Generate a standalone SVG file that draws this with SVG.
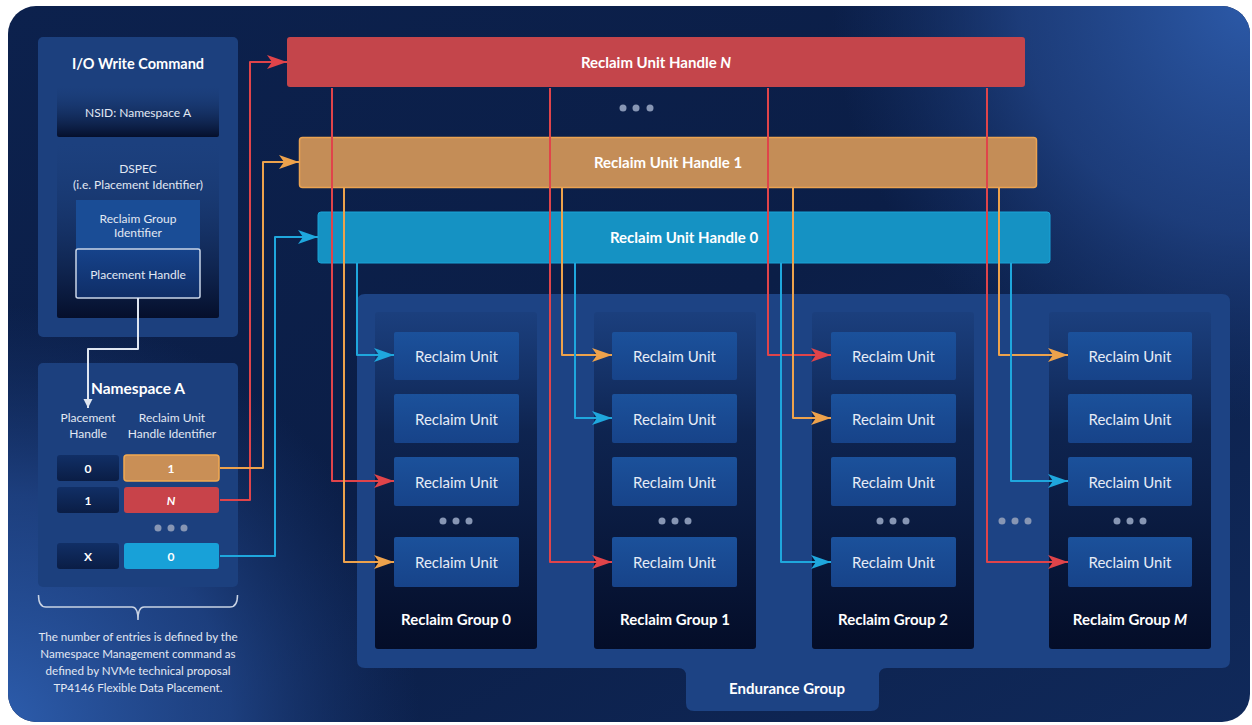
<svg xmlns="http://www.w3.org/2000/svg" width="1252" height="725" viewBox="0 0 1252 725">
  <defs>
    <style>
      text { font-family: "Lato", "Liberation Sans", sans-serif; text-anchor: middle; dominant-baseline: central; }
      .title { font-size: 14.5px; font-weight: 700; fill: #ffffff; }
      .bar-label { font-size: 15px; font-weight: 700; fill: #ffffff; }
      .small { font-size: 12px; fill: #e2e8f3; }
      .num { font-size: 12px; font-weight: 700; fill: #ffffff; }
      .note { font-size: 11.6px; fill: #e2e8f3; }
      .ru-text { font-size: 15px; fill: #e6ecf6; }
      .rg-label { font-size: 15px; font-weight: 700; fill: #ffffff; }
      .ru { fill: url(#ruFill); }
      .rg { fill: url(#rgFill); }
      .panel { fill: #1c407e; }
      .dot { fill: #8796b4; }
      .link { fill: none; stroke-width: 2; stroke-linejoin: round; }
      .red { stroke: #e0444a; }
      .orange { stroke: #eda24c; }
      .cyan { stroke: #1fa7dd; }
      .white { stroke: #dfe6f1; }
    </style>
    <linearGradient id="bgBase" x1="0" y1="0" x2="1" y2="1">
      <stop offset="0" stop-color="#0c214d"/>
      <stop offset="0.5" stop-color="#0b1e47"/>
      <stop offset="1" stop-color="#10295a"/>
    </linearGradient>
    <radialGradient id="glowTR" cx="1252" cy="0" r="420" gradientUnits="userSpaceOnUse">
      <stop offset="0" stop-color="#2c5aa9"/>
      <stop offset="0.55" stop-color="#24498f" stop-opacity="0.7"/>
      <stop offset="1" stop-color="#1a3a78" stop-opacity="0"/>
    </radialGradient>
    <radialGradient id="glowBL" cx="0" cy="725" r="420" gradientUnits="userSpaceOnUse">
      <stop offset="0" stop-color="#2d5dad"/>
      <stop offset="0.55" stop-color="#244c94" stop-opacity="0.7"/>
      <stop offset="1" stop-color="#1a3a78" stop-opacity="0"/>
    </radialGradient>
    <linearGradient id="darkBox" x1="0" y1="0" x2="0" y2="1">
      <stop offset="0" stop-color="#1c407e" stop-opacity="0.2"/>
      <stop offset="1" stop-color="#050f2b"/>
    </linearGradient>
    <linearGradient id="cellDark" x1="0" y1="0" x2="0" y2="1">
      <stop offset="0" stop-color="#112f66"/>
      <stop offset="1" stop-color="#0a1d45"/>
    </linearGradient>
    <linearGradient id="phFill" x1="0" y1="0" x2="0" y2="1">
      <stop offset="0" stop-color="#16438b"/>
      <stop offset="1" stop-color="#0f2d66"/>
    </linearGradient>
    <linearGradient id="ruFill" x1="0" y1="0" x2="0" y2="1">
      <stop offset="0" stop-color="#1b519b"/>
      <stop offset="1" stop-color="#174389"/>
    </linearGradient>
    <linearGradient id="rgFill" x1="0" y1="0" x2="0" y2="1">
      <stop offset="0" stop-color="#0a1c44" stop-opacity="0.1"/>
      <stop offset="0.35" stop-color="#08173a" stop-opacity="0.7"/>
      <stop offset="1" stop-color="#040d28"/>
    </linearGradient>
    <marker id="arrRed" viewBox="0 0 20 14" markerWidth="20" markerHeight="14" refX="20" refY="7" orient="auto" markerUnits="userSpaceOnUse">
      <path d="M0,0 L20,7 L0,14 L5,7 Z" fill="#e0444a"/>
    </marker>
    <marker id="arrOrange" viewBox="0 0 20 14" markerWidth="20" markerHeight="14" refX="20" refY="7" orient="auto" markerUnits="userSpaceOnUse">
      <path d="M0,0 L20,7 L0,14 L5,7 Z" fill="#eda24c"/>
    </marker>
    <marker id="arrCyan" viewBox="0 0 20 14" markerWidth="20" markerHeight="14" refX="20" refY="7" orient="auto" markerUnits="userSpaceOnUse">
      <path d="M0,0 L20,7 L0,14 L5,7 Z" fill="#1fa7dd"/>
    </marker>
    <marker id="arrWhite" viewBox="0 0 10 10" markerWidth="9" markerHeight="10" refX="10" refY="5" orient="auto" markerUnits="userSpaceOnUse">
      <path d="M0,0 L10,5 L0,10 Z" fill="#dfe6f1"/>
    </marker>
  </defs>

  <!-- backdrop -->
  <rect x="0" y="0" width="1252" height="725" fill="#ffffff"/>
  <rect x="8" y="6" width="1242" height="716" rx="28" fill="url(#bgBase)"/>
  <rect x="8" y="6" width="1242" height="716" rx="28" fill="url(#glowTR)"/>
  <rect x="8" y="6" width="1242" height="716" rx="28" fill="url(#glowBL)"/>

  <!-- I/O write command -->
  <g id="io-write-command">
    <rect class="panel" x="38" y="37" width="200" height="300" rx="5"/>
    <text class="title" x="138" y="63">I/O Write Command</text>
    <rect x="57" y="86" width="162" height="51" rx="2" fill="url(#darkBox)"/>
    <text class="small" x="138" y="112">NSID: Namespace A</text>
    <rect x="57" y="143" width="162" height="175" rx="2" fill="url(#darkBox)"/>
    <text class="small" x="138" y="168">DSPEC</text>
    <text class="small" x="138" y="184">(i.e. Placement Identifier)</text>
    <g id="reclaim-group-identifier">
      <rect x="76" y="200" width="124" height="49" fill="#1a4d96"/>
      <text class="small" x="138" y="218">Reclaim Group</text>
      <text class="small" x="138" y="232">Identifier</text>
    </g>
    <g id="placement-handle">
      <rect x="76" y="249" width="124" height="49" rx="2" fill="url(#phFill)" stroke="#c9d5e8" stroke-width="1.5"/>
      <text class="small" x="138" y="274">Placement Handle</text>
    </g>
  </g>

  <!-- namespace A table -->
  <g id="namespace-a">
    <rect class="panel" x="38" y="363" width="200" height="224" rx="5"/>
    <text class="title" x="138" y="388" style="font-size:15.5px">Namespace A</text>
    <text class="small" x="88" y="417">Placement</text>
    <text class="small" x="88" y="433">Handle</text>
    <text class="small" x="172" y="417">Reclaim Unit</text>
    <text class="small" x="172" y="433">Handle Identifier</text>

    <g id="row-0">
      <rect x="57" y="455" width="62" height="26" rx="3" fill="url(#cellDark)"/>
      <text class="num" x="88" y="468">0</text>
      <rect x="124" y="455" width="95" height="26" rx="3" fill="#c98f56" stroke="#f2a950" stroke-width="1.5"/>
      <text class="num" x="171" y="468">1</text>
    </g>
    <g id="row-1">
      <rect x="57" y="487" width="62" height="26" rx="3" fill="url(#cellDark)"/>
      <text class="num" x="88" y="500">1</text>
      <rect x="124" y="487" width="95" height="26" rx="3" fill="#c8434a"/>
      <text class="num" x="171" y="500" font-style="italic">N</text>
    </g>
    <circle class="dot" cx="158" cy="528" r="3.5"/>
    <circle class="dot" cx="171" cy="528" r="3.5"/>
    <circle class="dot" cx="184" cy="528" r="3.5"/>
    <g id="row-x">
      <rect x="57" y="543" width="62" height="26" rx="3" fill="url(#cellDark)"/>
      <text class="num" x="88" y="556">X</text>
      <rect x="124" y="543" width="95" height="26" rx="3" fill="#18a1d8"/>
      <text class="num" x="171" y="556">0</text>
    </g>
  </g>

  <!-- brace and note under the table -->
  <g id="entries-note">
    <path d="M38.5,595 Q38.5,607 46,607 H132 Q138,607 138,620 Q138,607 144,607 H230 Q237.5,607 237.5,595" fill="none" stroke="#c9d3e4" stroke-width="1.5"/>
    <text class="note" x="138" y="636">The number of entries is defined by the</text>
    <text class="note" x="138" y="653">Namespace Management command as</text>
    <text class="note" x="138" y="670">defined by NVMe technical proposal</text>
    <text class="note" x="138" y="687">TP4146 Flexible Data Placement.</text>
  </g>

  <!-- reclaim unit handles -->
  <g id="ruh-n">
    <rect x="287" y="37" width="738" height="50" rx="3" fill="#c4454b"/>
    <text class="bar-label" x="656" y="62">Reclaim Unit Handle <tspan font-style="italic">N</tspan></text>
  </g>
  <g id="ruh-dots">
    <circle class="dot" cx="623" cy="108" r="3.5"/>
    <circle class="dot" cx="636" cy="108" r="3.5"/>
    <circle class="dot" cx="650" cy="108" r="3.5"/>
  </g>
  <g id="ruh-1">
    <rect x="299.5" y="137.5" width="737" height="50" rx="3" fill="#c48d57" stroke="#eaa352" stroke-width="1.5"/>
    <text class="bar-label" x="668" y="162">Reclaim Unit Handle 1</text>
  </g>
  <g id="ruh-0">
    <rect x="318" y="212" width="732" height="51" rx="3" fill="#1592c3" stroke="#1ba3d7" stroke-width="1"/>
    <text class="bar-label" x="684" y="237">Reclaim Unit Handle 0</text>
  </g>

  <!-- endurance group -->
  <g id="endurance-group">
    <path d="M365,294 H1222 Q1230,294 1230,302 V660 Q1230,668 1222,668 H887 Q879,668 879,676 V703 Q879,711 871,711 H694 Q686,711 686,703 V676 Q686,668 678,668 H365 Q357,668 357,660 V302 Q357,294 365,294 Z" fill="#1d4384"/>
    <text class="rg-label" x="787" y="688">Endurance Group</text>
  </g>

  <!-- reclaim groups -->
  <g id="reclaim-group-0">
    <rect class="rg" x="375" y="312" width="162" height="337" rx="3"/>
    <rect class="ru" x="394" y="332" width="125" height="48" rx="2"/><text class="ru-text" x="456.5" y="356">Reclaim Unit</text>
    <rect class="ru" x="394" y="394" width="125" height="49" rx="2"/><text class="ru-text" x="456.5" y="418.5">Reclaim Unit</text>
    <rect class="ru" x="394" y="457" width="125" height="49" rx="2"/><text class="ru-text" x="456.5" y="481.5">Reclaim Unit</text>
    <circle class="dot" cx="443" cy="521" r="3.5"/><circle class="dot" cx="456" cy="521" r="3.5"/><circle class="dot" cx="469" cy="521" r="3.5"/>
    <rect class="ru" x="394" y="537" width="125" height="50" rx="2"/><text class="ru-text" x="456.5" y="562">Reclaim Unit</text>
    <text class="rg-label" x="456" y="619">Reclaim Group 0</text>
  </g>
  <g id="reclaim-group-1">
    <rect class="rg" x="594" y="312" width="162" height="337" rx="3"/>
    <rect class="ru" x="612" y="332" width="125" height="48" rx="2"/><text class="ru-text" x="674.5" y="356">Reclaim Unit</text>
    <rect class="ru" x="612" y="394" width="125" height="49" rx="2"/><text class="ru-text" x="674.5" y="418.5">Reclaim Unit</text>
    <rect class="ru" x="612" y="457" width="125" height="49" rx="2"/><text class="ru-text" x="674.5" y="481.5">Reclaim Unit</text>
    <circle class="dot" cx="662" cy="521" r="3.5"/><circle class="dot" cx="675" cy="521" r="3.5"/><circle class="dot" cx="688" cy="521" r="3.5"/>
    <rect class="ru" x="612" y="537" width="125" height="50" rx="2"/><text class="ru-text" x="674.5" y="562">Reclaim Unit</text>
    <text class="rg-label" x="675" y="619">Reclaim Group 1</text>
  </g>
  <g id="reclaim-group-2">
    <rect class="rg" x="812" y="312" width="162" height="337" rx="3"/>
    <rect class="ru" x="831" y="332" width="125" height="48" rx="2"/><text class="ru-text" x="893.5" y="356">Reclaim Unit</text>
    <rect class="ru" x="831" y="394" width="125" height="49" rx="2"/><text class="ru-text" x="893.5" y="418.5">Reclaim Unit</text>
    <rect class="ru" x="831" y="457" width="125" height="49" rx="2"/><text class="ru-text" x="893.5" y="481.5">Reclaim Unit</text>
    <circle class="dot" cx="880" cy="521" r="3.5"/><circle class="dot" cx="893" cy="521" r="3.5"/><circle class="dot" cx="906" cy="521" r="3.5"/>
    <rect class="ru" x="831" y="537" width="125" height="50" rx="2"/><text class="ru-text" x="893.5" y="562">Reclaim Unit</text>
    <text class="rg-label" x="893" y="619">Reclaim Group 2</text>
  </g>
  <g id="group-dots">
    <circle class="dot" cx="1002" cy="521" r="3.5"/><circle class="dot" cx="1015" cy="521" r="3.5"/><circle class="dot" cx="1028" cy="521" r="3.5"/>
  </g>
  <g id="reclaim-group-m">
    <rect class="rg" x="1049" y="312" width="162" height="337" rx="3"/>
    <rect class="ru" x="1068" y="332" width="124" height="48" rx="2"/><text class="ru-text" x="1130" y="356">Reclaim Unit</text>
    <rect class="ru" x="1068" y="394" width="124" height="49" rx="2"/><text class="ru-text" x="1130" y="418.5">Reclaim Unit</text>
    <rect class="ru" x="1068" y="457" width="124" height="49" rx="2"/><text class="ru-text" x="1130" y="481.5">Reclaim Unit</text>
    <circle class="dot" cx="1117" cy="521" r="3.5"/><circle class="dot" cx="1130" cy="521" r="3.5"/><circle class="dot" cx="1143" cy="521" r="3.5"/>
    <rect class="ru" x="1068" y="537" width="124" height="50" rx="2"/><text class="ru-text" x="1130" y="562">Reclaim Unit</text>
    <text class="rg-label" x="1130" y="619">Reclaim Group <tspan font-style="italic">M</tspan></text>
  </g>

  <!-- connectors -->
  <g id="connectors">
    <!-- placement handle lookup -->
    <path class="link white" d="M138,298 V349 H88 V408" stroke-width="1.8" marker-end="url(#arrWhite)"/>
    <!-- table entries to handles -->
    <path class="link red" d="M220,500 H250 V62 H287" marker-end="url(#arrRed)"/>
    <path class="link orange" d="M220,468 H263 V162 H299" marker-end="url(#arrOrange)"/>
    <path class="link cyan" d="M220,556 H275 V237 H318" marker-end="url(#arrCyan)"/>
    <!-- handle N -->
    <path class="link red" d="M332,88 V481 H394" marker-end="url(#arrRed)"/>
    <path class="link red" d="M550,88 V562 H612" marker-end="url(#arrRed)"/>
    <path class="link red" d="M768,88 V355 H831" marker-end="url(#arrRed)"/>
    <path class="link red" d="M987,88 V562 H1068" marker-end="url(#arrRed)"/>
    <!-- handle 1 -->
    <path class="link orange" d="M344,188 V562 H394" marker-end="url(#arrOrange)"/>
    <path class="link orange" d="M562,188 V355 H612" marker-end="url(#arrOrange)"/>
    <path class="link orange" d="M793,188 V418 H831" marker-end="url(#arrOrange)"/>
    <path class="link orange" d="M999,188 V355 H1068" marker-end="url(#arrOrange)"/>
    <!-- handle 0 -->
    <path class="link cyan" d="M357,263 V355 H394" marker-end="url(#arrCyan)"/>
    <path class="link cyan" d="M575,263 V418 H612" marker-end="url(#arrCyan)"/>
    <path class="link cyan" d="M781,263 V562 H831" marker-end="url(#arrCyan)"/>
    <path class="link cyan" d="M1011,263 V481 H1068" marker-end="url(#arrCyan)"/>
  </g>
</svg>
